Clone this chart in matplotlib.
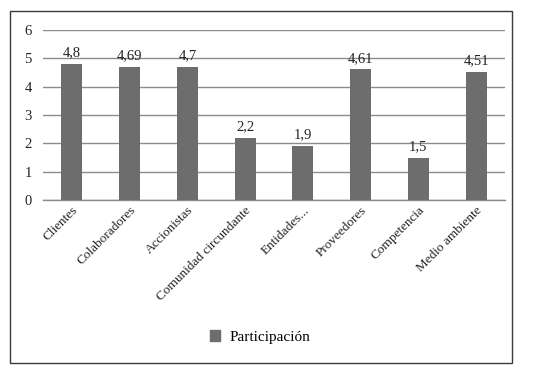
import matplotlib
matplotlib.use("Agg")
import matplotlib.pyplot as plt
from matplotlib.patches import Rectangle, Patch

categories = ["Clientes", "Colaboradores", "Accionistas", "Comunidad circundante",
              "Entidades...", "Proveedores", "Competencia", "Medio ambiente"]
values = [4.8, 4.69, 4.7, 2.2, 1.9, 4.61, 1.5, 4.51]
value_labels = ["4,8", "4,69", "4,7", "2,2", "1,9", "4,61", "1,5", "4,51"]
yticks = [0, 1, 2, 3, 4, 5, 6]
series_name = "Participación"

plt.rcParams['font.family'] = ['Liberation Serif', 'DejaVu Serif']
W, H = 534, 372
fig = plt.figure(figsize=(W/100, H/100), dpi=100)

fig.patches.append(Rectangle((10/W, 9/H), 502/W, 352/H, transform=fig.transFigure,
                             fill=False, edgecolor='#3a3a3a', linewidth=1.0))

ax = fig.add_axes([43/W, (H-200)/H, 462/W, 170/H])
x = range(len(categories))
bar_color = '#6d6d6d'
ax.bar(x, values, width=0.36, color=bar_color, zorder=3)
for xi, v, lab in zip(x, values, value_labels):
    ax.text(xi, v + 0.16, lab, ha='center', va='bottom', fontsize=10.5, color='#222222')

ax.set_ylim(0, 6)
ax.set_xlim(-0.5, len(categories) - 0.5)
ax.set_yticks(yticks)
ax.set_yticklabels([str(t) for t in yticks], fontsize=10.5, color='#222222')
ax.yaxis.grid(True, color='#8c8c8c', linewidth=1.0, zorder=0)
ax.set_axisbelow(True)
ax.tick_params(axis='y', length=0, pad=8)
ax.tick_params(axis='x', length=0, pad=3)
ax.set_xticks(list(x))
ax.set_xticklabels(categories, rotation=45, ha='right', rotation_mode='anchor',
                   fontsize=9.5, color='#222222')
for s in ['top', 'right', 'left']:
    ax.spines[s].set_visible(False)
ax.spines['bottom'].set_color('#8c8c8c')
ax.spines['bottom'].set_linewidth(1.0)

fig.legend(handles=[Patch(color=bar_color, label=series_name)], loc='center',
           bbox_to_anchor=(260/W, 1 - 337/H), frameon=False, fontsize=11,
           handlelength=0.7, handleheight=0.7, handletextpad=0.6)

fig.savefig("out.png", dpi=100)
